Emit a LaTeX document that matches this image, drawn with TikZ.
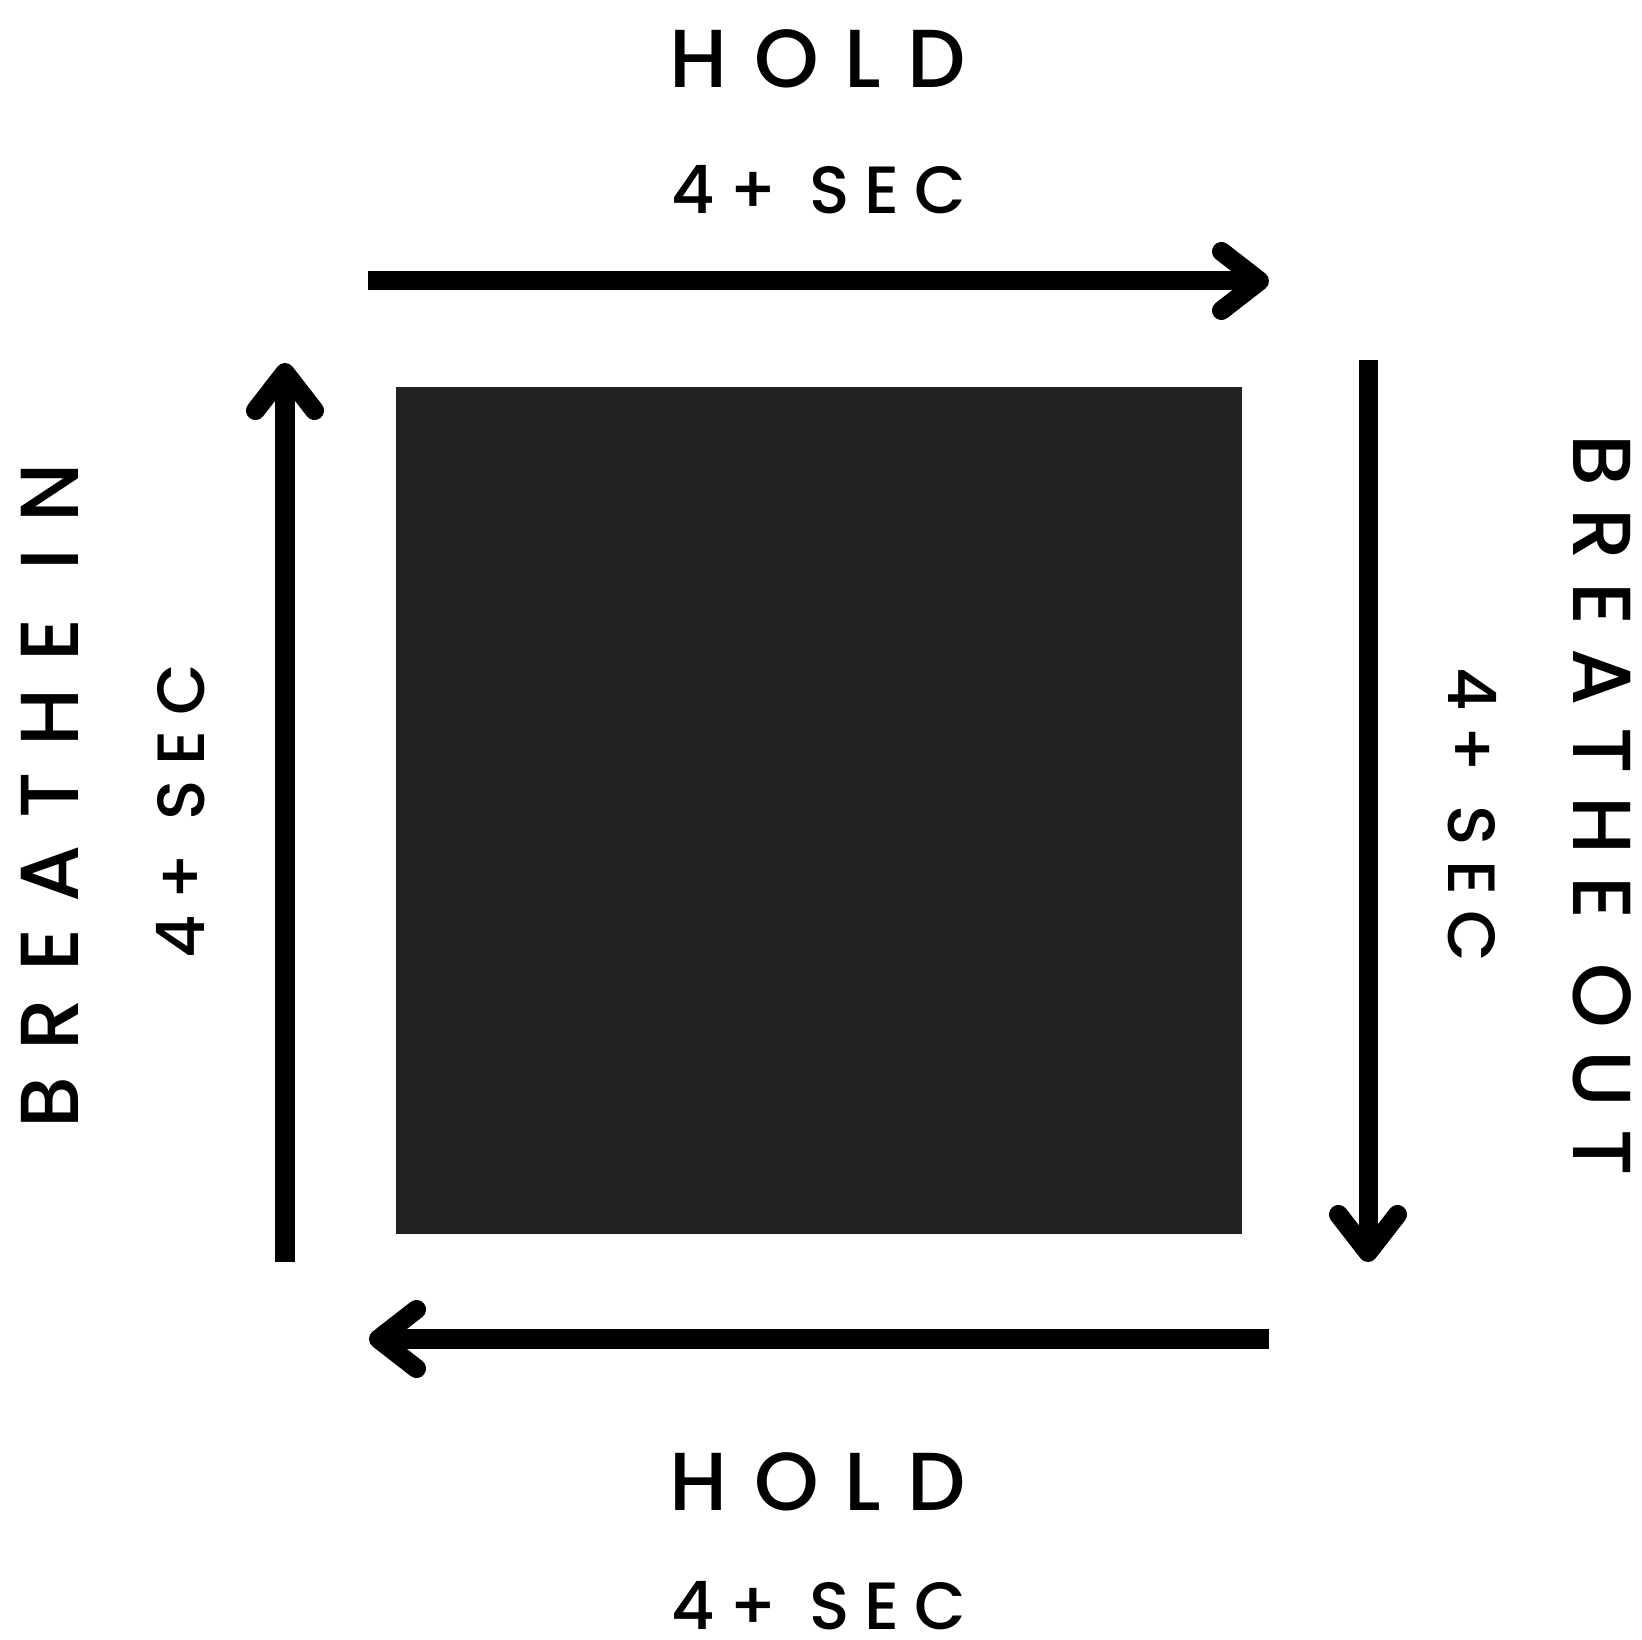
\documentclass[tikz,border=0pt]{standalone}
\usepackage{fontspec}
\setmainfont{Poppins}
\newfontfamily\spacedfont[LetterSpace=32, UprightFont={* Medium}]{Poppins}
\newfontfamily\tightfont[LetterSpace=27, UprightFont={* Medium}]{Poppins}
\newfontfamily\timingfont[LetterSpace=22, UprightFont={* Medium}]{Poppins}
\usetikzlibrary{arrows.meta}
\definecolor{boxgray}{HTML}{222222}
\tikzset{
	phase/.style={font=\spacedfont\fontsize{23.4}{28}\selectfont, inner sep=0pt},
	phasetight/.style={phase, font=\tightfont\fontsize{23.4}{28}\selectfont},
	timing/.style={font=\timingfont\fontsize{19}{23}\selectfont, inner sep=0pt},
	flow/.style={line width=0.19cm,
		-{Straight Barb[length=0.38cm,width=0.59cm,round]}},
	box/.style={fill=boxgray, minimum width=8.46cm, minimum height=8.47cm, inner sep=0pt}
}
\begin{document}
\begin{tikzpicture}[x=0.01cm, y=-0.01cm]
	\useasboundingbox (0,0) rectangle (1642,1640);
	% centre square
	\node[box] (square) at (819,810.5) {};
	% labels
	\node[phase] (holdtop) at (818,59) {HOLD};
	\node[timing] (sectop) at (819,190) {4+\ SEC};
	\node[phase] (holdbot) at (818,1482) {HOLD};
	\node[timing] (secbot) at (819,1606) {4+\ SEC};
	\node[phase, rotate=90] (breathein) at (50,796) {BREATHE IN};
	\node[timing, rotate=90] (secin) at (181,811) {4+\ SEC};
	\node[phasetight, rotate=-90] (breatheout) at (1602,805) {BREATHE OUT};
	\node[timing, rotate=-90] (secout) at (1472,815) {4+\ SEC};
	% arrow ends
	\coordinate (toptail) at (368,281);
	\coordinate (tophead) at (1269,281);
	\coordinate (righttail) at (1368,360);
	\coordinate (righthead) at (1368,1262);
	\coordinate (bottail) at (1269,1339);
	\coordinate (bothead) at (369,1339);
	\coordinate (lefttail) at (285,1262);
	\coordinate (lefthead) at (285,363);
	\draw[flow] (toptail) -- (tophead);
	\draw[flow] (righttail) -- (righthead);
	\draw[flow] (bottail) -- (bothead);
	\draw[flow] (lefttail) -- (lefthead);
\end{tikzpicture}
\end{document}
